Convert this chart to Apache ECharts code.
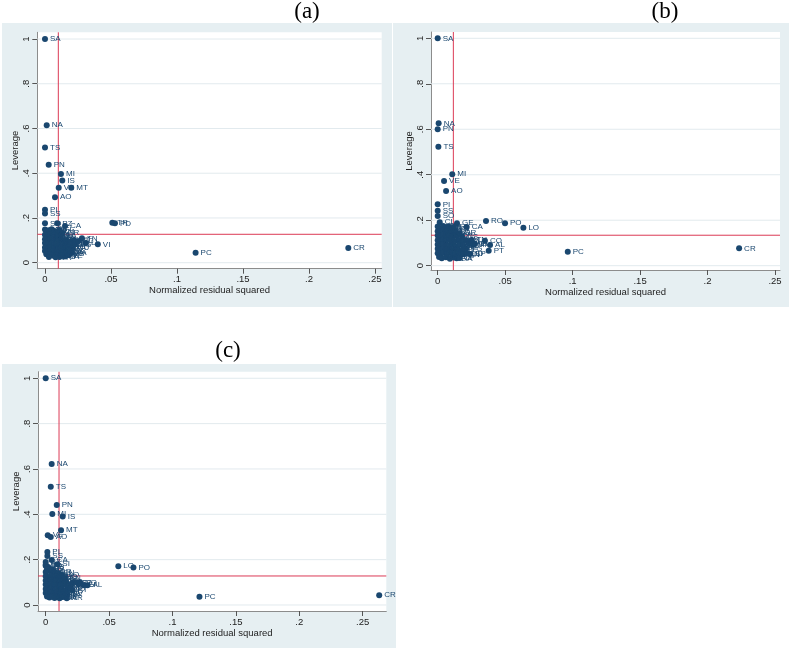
<!DOCTYPE html>
<html>
<head>
<meta charset="utf-8">
<script src="https://cdn.jsdelivr.net/npm/echarts@6/dist/echarts.min.js"></script>
<style>
html,body{margin:0;padding:0;background:#fff;}
#c{width:789px;height:651px;}
</style>
</head>
<body>
<div id="c"></div>
<script>
// ---------- shared tick labels ----------
const xTicks = [0, 0.05, 0.1, 0.15, 0.2, 0.25];
const xTickLabels = ['0', '.05', '.1', '.15', '.2', '.25'];
const yTicks = [0, 0.2, 0.4, 0.6, 0.8, 1];
const yTickLabels = ['0', '.2', '.4', '.6', '.8', '1'];
const panelTitles = ['(a)', '(b)', '(c)'];
const xAxisTitle = 'Normalized residual squared';
const yAxisTitle = 'Leverage';

// ---------- panel (a) ----------
const aNames = ['SA','NA','TS','PN','MI','IS','VE','MT','AO','PI','SS','SO','PZ','CA','TR','PD','TN','BG','VI','PC','CR',
 'BZ','BL','AG','CB','BI','RM','FI','GR',
 'EN','AN','AP','AQ','AT','AV','BA','AL',
 'BN','BO','BS','CE','CH','CL','CN','CS','CT','CZ','FC',
 'FE','FG','FM','FR','GE','GO','IM','KR','LC','LE','LI',
 'LT','LU','MB','MC','ME','MN','MO','MS','NO','NU',
 'OR','PA','PE','PG','PR','PU','PV','RA','RC',
 'RE','RG','RI','RN','SP','SR','SV','TA','TE','TO',
 'TP','TV','VA','VB','VC','VR','VT','VV','AR'];
const aResid = [0.0000,0.0013,0.0000,0.0028,0.0121,0.0131,0.0104,0.0199,0.0076,0.0000,0.0000,0.0000,0.0093,0.0152,0.0510,0.0530,0.0280,0.0227,0.0400,0.1141,0.2298,
 0.000,0.001,0.003,0.005,0.007,0.009,0.011,0.013,
 0.000,0.002,0.004,0.006,0.008,0.010,0.012,0.003,
 0.000,0.002,0.004,0.006,0.008,0.010,0.013,0.016,0.019,0.022,0.025,
 0.000,0.002,0.005,0.007,0.009,0.011,0.014,0.017,0.020,0.023,0.031,
 0.000,0.002,0.004,0.006,0.008,0.010,0.012,0.015,0.018,0.021,
 0.000,0.002,0.004,0.006,0.008,0.010,0.013,0.016,0.019,
 0.001,0.003,0.005,0.007,0.009,0.011,0.013,0.015,0.017,0.011,
 0.004,0.014,0.020,0.018,0.003,0.008,0.012,0.006,0.009];
const aLev = [1.000,0.615,0.515,0.4375,0.397,0.368,0.335,0.335,0.293,0.237,0.220,0.176,0.176,0.164,0.179,0.176,0.109,0.082,0.082,0.0446,0.0656,
 0.148,0.140,0.145,0.150,0.142,0.138,0.146,0.133,
 0.125,0.118,0.128,0.121,0.126,0.117,0.122,0.112,
 0.105,0.098,0.108,0.100,0.104,0.097,0.102,0.099,0.095,0.101,0.096,
 0.088,0.082,0.086,0.080,0.088,0.083,0.085,0.080,0.086,0.083,0.088,
 0.068,0.062,0.070,0.064,0.066,0.060,0.068,0.063,0.070,0.066,
 0.052,0.047,0.054,0.049,0.053,0.045,0.050,0.048,0.055,
 0.038,0.032,0.036,0.030,0.037,0.031,0.035,0.028,0.033,0.025,
 0.040,0.040,0.045,0.038,0.025,0.024,0.044,0.112,0.112];
const aCutResid = 0.0101;
const aCutLev = 0.127;

// ---------- panel (b) ----------
const bNames = ['SA','NA','PN','TS','MI','VE','AO','PI','SS','SO','CL','GE','CA','RO','PO','LO','TN','CO','VI','AL','PT','UD','RA','PC','CR',
 'BZ','BL','CB','AG','BI','RM','FI',
 'EN','AN','AP','AQ','AT','AV','BA','GR',
 'BN','BO','BS','CE','CH','TR','CN','CS',
 'CT','CZ','FC','FE','FG','FM','FR','GO','IM',
 'KR','LC','LE','LI','LT','LU','MB','MC','ME','MN',
 'MO','MS','NO','NU','OR','PA','PD','PE','PG',
 'PR','PU','PV','RC','RE','RG','RI','RN','SP',
 'SR','SV','TA','TE','TO','TP'];
const bResid = [0.0000,0.0007,0.0000,0.0005,0.0108,0.0047,0.0062,0.0000,0.0000,0.0000,0.0015,0.0143,0.0215,0.0358,0.0499,0.0635,0.0250,0.0350,0.0276,0.0388,0.0378,0.0215,0.0140,0.0964,0.2234,
 0.000,0.002,0.004,0.006,0.008,0.010,0.012,
 0.000,0.002,0.004,0.006,0.008,0.010,0.013,0.016,
 0.000,0.002,0.004,0.006,0.008,0.011,0.014,0.018,
 0.000,0.002,0.004,0.006,0.009,0.012,0.015,0.018,0.021,
 0.000,0.002,0.004,0.007,0.010,0.013,0.016,0.019,0.023,0.026,
 0.000,0.002,0.004,0.006,0.009,0.012,0.015,0.018,0.021,
 0.000,0.002,0.004,0.007,0.010,0.013,0.016,0.019,0.024,
 0.001,0.003,0.006,0.009,0.012,0.016];
const bLev = [1.000,0.626,0.600,0.523,0.402,0.3725,0.3285,0.270,0.242,0.2186,0.191,0.1865,0.170,0.1966,0.1865,0.167,0.113,0.110,0.097,0.091,0.066,0.0545,0.0325,0.0616,0.0765,
 0.172,0.165,0.175,0.168,0.172,0.163,0.170,
 0.152,0.146,0.155,0.149,0.153,0.145,0.150,0.143,
 0.133,0.128,0.136,0.130,0.134,0.127,0.132,0.128,
 0.112,0.106,0.115,0.109,0.113,0.105,0.111,0.107,0.112,
 0.093,0.087,0.095,0.089,0.094,0.086,0.092,0.088,0.095,0.092,
 0.074,0.068,0.076,0.070,0.073,0.066,0.072,0.068,0.074,
 0.055,0.049,0.057,0.051,0.055,0.048,0.053,0.050,0.052,
 0.038,0.033,0.037,0.031,0.036,0.034];
const bCutResid = 0.0116;
const bCutLev = 0.134;

// ---------- panel (c) ----------
const cNames = ['SA','NA','TS','PN','MI','IS','MT','VE','AO','PI','SS','CA','SI','SO','GO','LO','PO','CO','PD','AL','PT','AR','PC','CR',
 'BZ','BL','CB','AG','BI','RM','FI','GR','EN',
 'AN','AP','AQ','AT','AV','BA','BG','BN',
 'BO','BS','CE','CH','CL','CN','CS','CT','CZ',
 'FC','FE','FG','FM','FR','GE','IM','KR','LC','LE','LI',
 'LT','LU','MB','MC','ME','MN','MO','MS','NO',
 'NU','OR','PA','PE','PG','PR','PU','PV',
 'RA','RC','RE','RG','RI','RN','SP','SR'];
const cResid = [0.0000,0.0047,0.0040,0.0087,0.0052,0.0134,0.0121,0.0016,0.0040,0.0013,0.0013,0.0047,0.0092,0.0000,0.0126,0.0573,0.0692,0.0271,0.0210,0.0329,0.0210,0.0166,0.1213,0.2631,
 0.000,0.000,0.002,0.001,0.003,0.000,0.005,0.007,0.010,
 0.000,0.002,0.004,0.006,0.008,0.010,0.012,0.015,
 0.000,0.002,0.004,0.006,0.008,0.010,0.013,0.016,0.024,
 0.000,0.002,0.004,0.006,0.009,0.011,0.014,0.017,0.020,0.026,0.030,
 0.000,0.002,0.004,0.006,0.008,0.010,0.013,0.016,0.018,
 0.000,0.002,0.004,0.006,0.008,0.011,0.014,0.017,
 0.001,0.003,0.005,0.007,0.009,0.011,0.013,0.015];
const cLev = [1.000,0.622,0.522,0.441,0.401,0.390,0.330,0.3075,0.300,0.234,0.216,0.198,0.180,0.173,0.135,0.171,0.165,0.100,0.098,0.087,0.066,0.0296,0.0366,0.0428,
 0.190,0.178,0.168,0.158,0.150,0.145,0.158,0.145,0.140,
 0.127,0.120,0.130,0.123,0.128,0.120,0.126,0.118,
 0.108,0.102,0.110,0.104,0.109,0.101,0.107,0.103,0.100,
 0.090,0.084,0.092,0.086,0.089,0.083,0.090,0.085,0.088,0.091,0.087,
 0.070,0.064,0.072,0.066,0.070,0.062,0.068,0.064,0.072,
 0.053,0.047,0.055,0.049,0.054,0.046,0.052,0.049,
 0.038,0.033,0.037,0.031,0.036,0.030,0.035,0.040];
const cCutResid = 0.0105;
const cCutLev = 0.128;

// ---------- build ----------
const NAVY = '#1a476f';
const RED = '#dc3a55';
const GRIDC = '#e2eaee';
const BG = '#e6eff2';
const SANS = '"Liberation Sans", Arial, Helvetica, sans-serif';
const SERIF = '"Liberation Serif", "Times New Roman", serif';

const panels = [
  {names: aNames, x: aResid, y: aLev, cx: aCutResid, cy: aCutLev,
   grid: {left: 37.3, top: 32.3, width: 344.4, height: 236.4},
   xr: [-0.00583, 0.2551], yr: [-0.0268, 1.030]},
  {names: bNames, x: bResid, y: bLev, cx: bCutResid, cy: bCutLev,
   grid: {left: 431, top: 32, width: 349, height: 238},
   xr: [-0.00497, 0.2537], yr: [-0.0189, 1.0277]},
  {names: cNames, x: cResid, y: cLev, cx: cCutResid, cy: cCutLev,
   grid: {left: 38, top: 371.7, width: 348.3, height: 239.3},
   xr: [-0.00608, 0.2687], yr: [-0.0265, 1.029]}
];

const fmtX = v => { const i = xTicks.findIndex(t => Math.abs(t - v) < 1e-9); return i >= 0 ? xTickLabels[i] : ''; };
const fmtY = v => { const i = yTicks.findIndex(t => Math.abs(t - v) < 1e-9); return i >= 0 ? yTickLabels[i] : ''; };

function segment(k, pts, color, z) {
  return {
    type: 'line', xAxisIndex: k, yAxisIndex: k, z: z, silent: true, animation: false,
    symbol: 'none', showSymbol: false, clip: true,
    lineStyle: {color: color, width: 1, type: 'solid', opacity: 1},
    itemStyle: {color: color},
    emphasis: {disabled: true},
    data: pts
  };
}

const grids = [], xAxes = [], yAxes = [], series = [];
panels.forEach((p, k) => {
  grids.push(Object.assign({show: true, backgroundColor: '#ffffff', borderWidth: 0, containLabel: false}, p.grid));
  xAxes.push({
    type: 'value', gridIndex: k, min: p.xr[0], max: p.xr[1],
    name: xAxisTitle, nameLocation: 'middle', nameGap: 16,
    nameTextStyle: {fontFamily: SANS, fontSize: 9.5, color: '#222'},
    axisLine: {show: true, onZero: false, lineStyle: {color: '#8c8c8c', width: 1}},
    axisTick: {show: true, inside: false, length: 5, customValues: xTicks, lineStyle: {color: '#555', width: 1}},
    axisLabel: {customValues: xTicks, formatter: fmtX, margin: 6, fontFamily: SANS, fontSize: 9.5, color: '#222'},
    splitLine: {show: false},
    axisPointer: {show: false}
  });
  yAxes.push({
    type: 'value', gridIndex: k, min: p.yr[0], max: p.yr[1],
    name: yAxisTitle, nameLocation: 'middle', nameGap: 15,
    nameTextStyle: {fontFamily: SANS, fontSize: 9.5, color: '#222'},
    axisLine: {show: true, onZero: false, lineStyle: {color: '#8c8c8c', width: 1}},
    axisTick: {show: true, inside: false, length: 5, customValues: yTicks, lineStyle: {color: '#555', width: 1}},
    axisLabel: {customValues: yTicks, formatter: fmtY, rotate: 90, margin: 6, fontFamily: SANS, fontSize: 9.5, color: '#222'},
    splitLine: {show: false},
    axisPointer: {show: false}
  });
  // horizontal gridlines at the y ticks
  yTicks.forEach(v => series.push(segment(k, [[p.xr[0], v], [p.xr[1], v]], GRIDC, 1)));
  // reference lines (cut-offs)
  series.push(segment(k, [[p.cx, p.yr[0]], [p.cx, p.yr[1]]], RED, 2));
  series.push(segment(k, [[p.xr[0], p.cy], [p.xr[1], p.cy]], RED, 2));
  // points
  series.push({
    type: 'scatter', xAxisIndex: k, yAxisIndex: k, z: 5, animation: false,
    symbol: 'circle', symbolSize: 6,
    itemStyle: {color: NAVY, opacity: 1},
    label: {show: true, position: 'right', distance: 2, formatter: q => q.name,
      fontFamily: SANS, fontSize: 8, color: NAVY},
    data: p.names.map((n, i) => ({name: n, value: [p.x[i], p.y[i]]}))
  });
});

const graphic = [
  {type: 'rect', shape: {x: 2, y: 23, width: 390, height: 284}, style: {fill: BG}, z: -10, silent: true},
  {type: 'rect', shape: {x: 393, y: 23, width: 396, height: 284}, style: {fill: BG}, z: -10, silent: true},
  {type: 'rect', shape: {x: 2, y: 364, width: 394, height: 284}, style: {fill: BG}, z: -10, silent: true},
  {type: 'text', x: 307, y: 12, style: {text: panelTitles[0], font: '23px ' + SERIF, fill: '#000', align: 'center', verticalAlign: 'middle'}},
  {type: 'text', x: 665, y: 12, style: {text: panelTitles[1], font: '23px ' + SERIF, fill: '#000', align: 'center', verticalAlign: 'middle'}},
  {type: 'text', x: 228, y: 351, style: {text: panelTitles[2], font: '23px ' + SERIF, fill: '#000', align: 'center', verticalAlign: 'middle'}}
];

const chart = echarts.init(document.getElementById('c'), null, {renderer: 'canvas'});
chart.setOption({
  animation: false,
  backgroundColor: '#ffffff',
  tooltip: {show: false},
  grid: grids, xAxis: xAxes, yAxis: yAxes, series: series, graphic: graphic
});
</script>
</body>
</html>
